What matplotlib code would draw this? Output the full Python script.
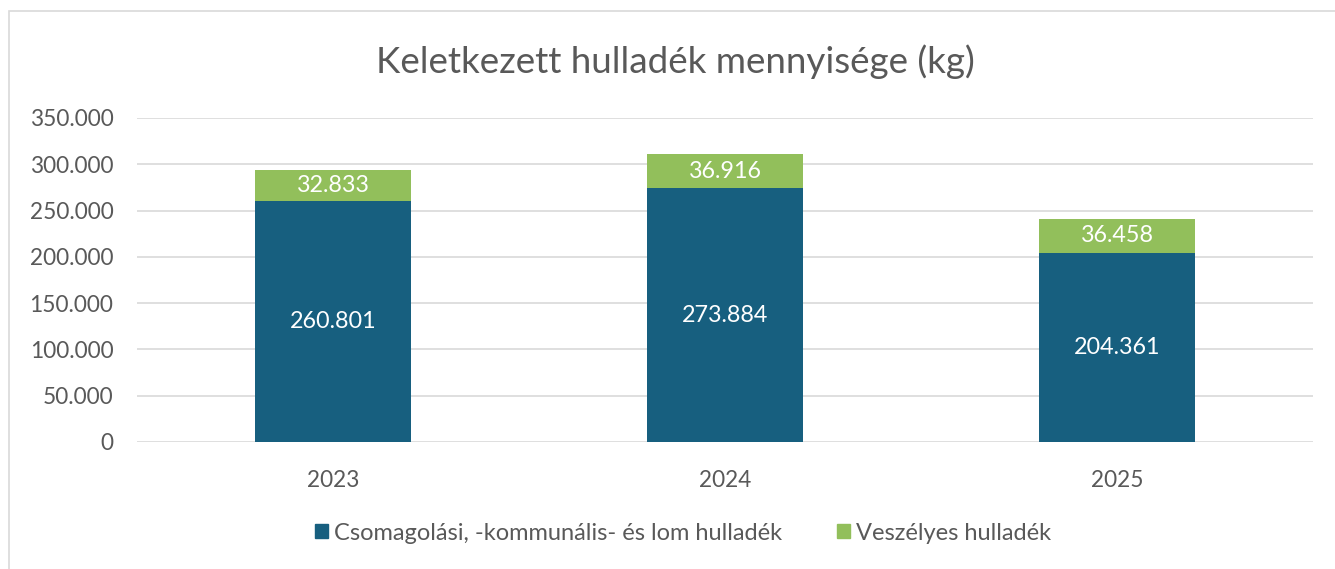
import matplotlib
matplotlib.use("Agg")
import matplotlib.pyplot as plt
from matplotlib.patches import Rectangle, Patch
from matplotlib.ticker import FuncFormatter

plt.rcParams['font.family'] = ['Lato', 'DejaVu Sans']

years = ["2023", "2024", "2025"]
communal = [260801, 273884, 204361]
hazardous = [32833, 36916, 36458]
series_names = ["Csomagolási, -kommunális- és lom hulladék", "Veszélyes hulladék"]
yticks = [0, 50000, 100000, 150000, 200000, 250000, 300000, 350000]

BLUE = "#175f7f"
GREEN = "#92bf5b"
TEXT = "#595959"
GRID = "#d9d9d9"

def hu(v):
    return f"{int(v):,}".replace(",", ".")

fig = plt.figure(figsize=(13.35, 5.69), dpi=100)
fig.patches.append(Rectangle((9 / 1335, -0.1), 1.2, 1 - 11 / 569 + 0.1,
                             transform=fig.transFigure, fill=False,
                             edgecolor="#d9d9d9", linewidth=1.2))

ax = fig.add_axes([137 / 1335, 1 - 442 / 569, (1313 - 137) / 1335, (442 - 118) / 569])
x = list(range(len(years)))
ax.bar(x, communal, width=0.4, color=BLUE, zorder=3)
ax.bar(x, hazardous, width=0.4, bottom=communal, color=GREEN, zorder=3)

for i in x:
    ax.text(i, communal[i] / 2, hu(communal[i]), ha="center", va="center",
            color="white", fontsize=16.8, zorder=4)
    ax.text(i, communal[i] + hazardous[i] / 2, hu(hazardous[i]), ha="center",
            va="center", color="white", fontsize=16.8, zorder=4)

ax.set_xlim(-0.5, 2.5)
ax.set_ylim(0, 350000)
ax.set_yticks(yticks)
ax.yaxis.set_major_formatter(FuncFormatter(lambda v, p: hu(v)))
ax.set_xticks(x)
ax.set_xticklabels(years)
ax.tick_params(axis="both", length=0, labelsize=16.3, colors=TEXT)
ax.tick_params(axis="y", pad=17)
ax.tick_params(axis="x", pad=20)
ax.grid(axis="y", color=GRID, linewidth=1.2, zorder=0)
for s in ax.spines.values():
    s.set_visible(False)

fig.text(675 / 1335, 1 - 62 / 569, "Keletkezett hulladék mennyisége (kg)",
         ha="center", va="center", fontsize=26.5, color=TEXT)

handles = [Patch(facecolor=BLUE, edgecolor=BLUE), Patch(facecolor=GREEN, edgecolor=GREEN)]
fig.legend(handles, series_names, loc="center", bbox_to_anchor=(683 / 1335, 1 - 533 / 569),
           ncol=2, frameon=False, fontsize=17, labelcolor=TEXT,
           handlelength=0.55, handleheight=0.55, handletextpad=0.25, columnspacing=2.3)

fig.savefig("out.png", dpi=100)
